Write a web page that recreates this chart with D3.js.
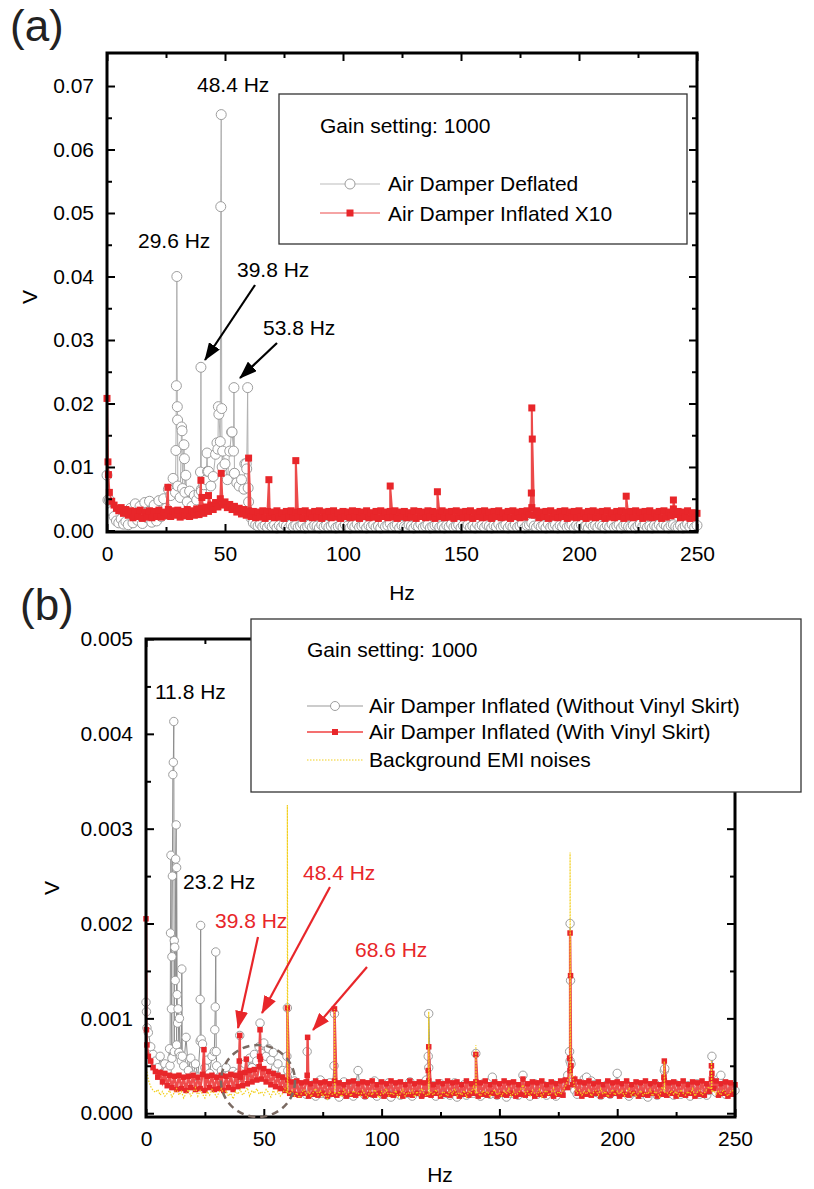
<!DOCTYPE html>
<html>
<head>
<meta charset="utf-8"/>
<script src="https://cdn.jsdelivr.net/npm/d3@7"></script>
<style>
  body { margin: 0; background: #fff; }
  text { font-family: "Liberation Sans", Arial, sans-serif; }
</style>
</head>
<body>
<div id="chart"></div>
<script>

// ---- panel (a): one value per Hz (0..250), units of 1e-4 V ----
var deflatedA = [
  87, 48, 30, 22, 15, 12, 18, 10, 14, 9,
  35, 12, 42, 16, 38, 11, 44, 20, 46, 13,
  40, 15, 47, 22, 50, 35, 65, 55, 82, 60,
  70, 52, 66, 60, 45, 62, 38, 55, 48, 58,
  65, 72, 80, 93, 70, 85, 120, 128, 140, 125,
  105, 80, 125, 155, 90, 75, 70, 80, 65, 105,
  45, 20, 12, 9, 7, 10, 6, 8, 5, 9,
  6, 9, 4, 8, 5, 10, 7, 4, 9, 6,
  8, 5, 7, 10, 4, 6, 9, 5, 8, 7,
  4, 9, 6, 8, 5, 7, 10, 4, 6, 8,
  5, 9, 7, 4, 8, 6, 10, 5, 7, 9,
  4, 8, 6, 9, 5, 7, 4, 10, 6, 8,
  11, 5, 7, 9, 4, 8, 6, 5, 9, 7,
  4, 8, 6, 10, 5, 7, 9, 4, 6, 8,
  9, 5, 7, 4, 8, 6, 10, 5, 7, 9,
  4, 8, 6, 9, 5, 7, 4, 10, 6, 8,
  5, 9, 7, 4, 8, 6, 10, 5, 7, 9,
  4, 8, 6, 9, 5, 7, 10, 4, 8, 9,
  12, 7, 5, 9, 6, 8, 4, 10, 5, 7,
  9, 4, 8, 6, 10, 5, 7, 9, 4, 8,
  6, 9, 5, 7, 4, 10, 6, 8, 5, 9,
  7, 4, 8, 6, 10, 5, 7, 9, 4, 8,
  9, 6, 5, 8, 4, 7, 10, 6, 9, 5,
  7, 4, 8, 6, 9, 5, 10, 7, 4, 8,
  9, 6, 5, 8, 4, 7, 10, 6, 9, 5,
  8
];
var deflatedA_peaks = [
  [0.4, 48],
  [29.2, 126], [29.4, 228], [29.6, 400], [29.8, 195], [29.9, 174],
  [31.6, 163], [31.8, 157], [32.6, 135], [32.8, 113], [33.4, 87],
  [39.6, 92], [39.8, 257], [40.0, 62],
  [42.4, 122], [42.6, 93],
  [46.6, 138], [47.2, 195], [47.4, 183], [48.2, 510], [48.4, 655], [48.6, 192], [48.8, 100],
  [52.8, 155], [53.6, 125], [53.8, 225], [54.0, 90],
  [58.4, 105], [59.2, 97], [59.6, 225], [59.8, 67]
];
var inflatedA = [
  208, 60, 46, 40, 35, 31, 36, 27, 33, 24,
  31, 20, 30, 22, 32, 19, 29, 21, 31, 20,
  30, 22, 32, 21, 29, 23, 33, 22, 31, 24,
  32, 21, 30, 23, 33, 22, 31, 24, 34, 25,
  35, 27, 37, 30, 40, 33, 44, 37, 50, 40,
  45, 36, 41, 33, 38, 29, 35, 26, 33, 24,
  31, 22, 30, 20, 29, 21, 31, 19, 30, 22,
  29, 20, 31, 21, 28, 19, 30, 22, 31, 20,
  29, 21, 30, 19, 31, 22, 28, 20, 30, 21,
  31, 19, 29, 22, 30, 20, 31, 21, 28, 19,
  30, 22, 29, 20, 31, 21, 30, 19, 29, 22,
  31, 20, 28, 21, 30, 19, 31, 22, 29, 20,
  30, 21, 31, 19, 29, 22, 30, 20, 28, 21,
  31, 19, 30, 22, 29, 20, 31, 21, 30, 19,
  28, 22, 31, 20, 29, 21, 30, 19, 31, 22,
  29, 20, 30, 21, 31, 19, 28, 22, 30, 20,
  31, 21, 29, 19, 30, 22, 31, 20, 28, 21,
  30, 19, 31, 22, 29, 20, 30, 21, 31, 25,
  36, 24, 31, 20, 29, 22, 30, 19, 31, 21,
  28, 20, 30, 22, 31, 19, 29, 21, 30, 20,
  31, 22, 28, 19, 30, 21, 31, 20, 29, 22,
  30, 19, 31, 21, 28, 20, 30, 22, 31, 19,
  29, 21, 30, 20, 31, 22, 29, 19, 30, 21,
  31, 20, 28, 22, 30, 19, 31, 21, 29, 23,
  34, 25, 30, 20, 29, 21, 31, 19, 28, 20,
  27
];
var inflatedA_peaks = [
  [0.4, 108], [0.6, 88], [25.8, 68],
  [39.8, 79], [40.2, 52], [43.0, 55], [48.4, 90],
  [60.0, 114], [68.6, 80], [80.0, 110], [120.0, 70], [140.0, 61],
  [179.8, 59], [180.0, 193], [180.2, 144], [220.0, 54], [240.0, 48]
];

// ---- panel (b): one value per Hz (0..250), units of 1e-5 V ----
var noSkirtB = [
  117, 85, 70, 62, 55, 48, 60, 42, 52, 45,
  68, 58, 65, 72, 64, 55, 50, 80, 45, 58,
  40, 52, 38, 76, 73, 48, 56, 42, 60, 65,
  50, 38, 45, 35, 48, 40, 33, 44, 36, 42,
  38, 45, 52, 40, 58, 48, 62, 55, 70, 63,
  74, 60, 68, 56, 64, 48, 52, 40, 45, 36,
  38, 30, 26, 34, 22, 30, 25, 28, 20, 26,
  24, 30, 18, 27, 35, 21, 28, 19, 32, 25,
  22, 29, 17, 26, 33, 20, 27, 24, 18, 31,
  45, 23, 28, 19, 30, 25, 21, 34, 18, 26,
  29, 20, 24, 32, 17, 27, 23, 30, 19, 25,
  28, 21, 33, 18, 26, 24, 30, 20, 27, 35,
  48, 22, 29, 18, 25, 31, 20, 27, 23, 19,
  26, 32, 17, 28, 22, 30, 19, 25, 27, 21,
  29, 24, 18, 31, 22, 27, 20, 38, 25, 19,
  28, 23, 30, 17, 26, 21, 29, 24, 19, 27,
  40, 22, 28, 18, 25, 31, 20, 26, 23, 29,
  19, 27, 24, 30, 18, 25, 22, 28, 33, 40,
  55, 30, 24, 20, 27, 23, 36, 38, 26, 34,
  30, 22, 28, 19, 26, 24, 31, 20, 25, 29,
  42, 21, 27, 23, 30, 18, 26, 22, 28, 24,
  20, 29, 25, 17, 27, 23, 31, 19, 26, 22,
  45, 28, 21, 25, 19, 30, 24, 20, 27, 23,
  29, 18, 26, 22, 31, 20, 25, 28, 19, 24,
  30, 27, 22, 36, 40, 25, 20, 28, 23, 26,
  24
];
var noSkirtB_peaks = [
  [0.2, 107], [0.4, 90],
  [10.2, 50], [10.4, 190], [10.6, 272], [10.8, 110], [11.0, 165], [11.2, 250], [11.4, 357],
  [11.6, 370], [11.8, 413], [12.0, 182], [12.2, 175], [12.4, 140], [12.6, 268], [12.8, 304],
  [13.0, 259], [13.2, 125], [13.4, 95], [13.6, 110], [14.0, 64], [14.2, 100], [14.6, 60],
  [15.2, 152], [15.4, 60],
  [23.0, 120], [23.2, 198], [23.4, 78],
  [29.2, 88], [29.4, 112], [29.6, 170], [29.8, 65],
  [39.8, 82], [48.4, 95],
  [59.8, 60], [60.0, 111], [60.2, 45], [68.4, 65],
  [79.8, 50], [80.0, 105], [119.8, 60], [120.0, 105], [140.0, 63],
  [179.8, 65], [180.0, 200], [180.2, 140], [180.4, 52],
  [220.2, 47], [240.2, 60]
];
var skirtB = [
  205, 60, 55, 48, 44, 38, 43, 33, 42, 29,
  40, 27, 39, 25, 40, 26, 38, 24, 39, 27,
  40, 25, 38, 26, 41, 24, 39, 27, 40, 25,
  38, 26, 40, 24, 39, 27, 41, 25, 40, 28,
  42, 29, 43, 31, 45, 33, 46, 35, 49, 36,
  47, 33, 44, 30, 42, 28, 40, 26, 38, 24,
  35, 21, 33, 20, 34, 19, 32, 21, 33, 18,
  31, 20, 34, 19, 32, 21, 33, 18, 31, 20,
  34, 19, 32, 21, 30, 18, 33, 20, 34, 19,
  31, 21, 33, 18, 32, 20, 34, 19, 30, 21,
  33, 18, 31, 20, 34, 19, 32, 21, 33, 18,
  30, 20, 34, 19, 31, 21, 33, 18, 32, 20,
  34, 19, 30, 21, 33, 18, 31, 20, 34, 19,
  32, 21, 33, 18, 30, 20, 34, 19, 31, 21,
  33, 18, 32, 20, 34, 19, 30, 21, 33, 18,
  31, 20, 34, 19, 32, 21, 33, 18, 30, 20,
  36, 19, 31, 21, 33, 18, 32, 20, 34, 19,
  30, 21, 33, 18, 31, 20, 34, 19, 35, 27,
  45, 30, 36, 21, 33, 18, 32, 20, 34, 19,
  31, 21, 33, 18, 30, 20, 34, 19, 32, 21,
  33, 18, 31, 20, 34, 19, 30, 21, 33, 18,
  32, 20, 34, 19, 31, 21, 33, 18, 30, 20,
  34, 19, 32, 21, 33, 18, 31, 20, 34, 19,
  30, 21, 33, 18, 32, 20, 34, 19, 31, 23,
  36, 26, 34, 19, 31, 21, 33, 18, 32, 20,
  30
];
var skirtB_peaks = [
  [0.2, 88], [0.4, 72],
  [24.6, 67], [39.6, 55], [39.8, 82], [40.0, 38], [42.6, 57],
  [48.2, 60], [48.4, 88], [48.6, 57],
  [60.0, 111], [68.4, 40], [68.6, 80], [80.0, 110],
  [119.8, 45], [120.0, 70], [140.0, 62],
  [179.8, 58], [180.0, 190], [180.2, 145], [180.4, 50],
  [219.8, 38], [220.0, 55], [240.0, 50], [240.2, 42]
];
var emiB = [
  50, 35, 28, 24, 22, 25, 19, 23, 18, 21,
  24, 17, 22, 26, 19, 23, 16, 21, 25, 18,
  22, 27, 18, 24, 20, 16, 23, 19, 25, 21,
  17, 22, 26, 19, 24, 18, 21, 15, 23, 20,
  25, 19, 22, 27, 18, 24, 21, 26, 20, 23,
  19, 25, 22, 17, 24, 20, 23, 18, 21, 26,
  22, 20, 24, 18, 22, 16, 21, 25, 19, 23,
  17, 22, 26, 19, 24, 18, 21, 15, 23, 20,
  21, 19, 23, 17, 25, 20, 22, 18, 24, 21,
  22, 18, 24, 20, 17, 23, 19, 25, 21, 16,
  23, 20, 26, 18, 22, 19, 24, 17, 21, 25,
  18, 22, 20, 24, 17, 23, 19, 26, 21, 18,
  22, 22, 19, 25, 20, 17, 23, 21, 18, 24,
  20, 26, 18, 22, 19, 24, 17, 23, 21, 28,
  24, 21, 18, 24, 20, 23, 17, 22, 25, 19,
  22, 18, 24, 20, 26, 17, 23, 19, 21, 25,
  30, 20, 23, 18, 24, 21, 19, 25, 17, 22,
  24, 19, 22, 26, 18, 23, 20, 24, 28, 35,
  40, 40, 26, 21, 24, 19, 23, 20, 25, 18,
  22, 24, 19, 26, 20, 23, 17, 21, 25, 19,
  23, 20, 24, 18, 22, 26, 19, 23, 17, 21,
  24, 19, 22, 20, 25, 18, 23, 21, 17, 28,
  25, 22, 19, 24, 20, 23, 18, 25, 21, 19,
  23, 20, 26, 18, 22, 24, 19, 21, 25, 28,
  26, 24, 20, 23, 19, 25, 21, 18, 22, 24,
  20
];
var emiB_peaks = [
  [59.8, 21], [60.0, 325], [60.2, 23], [79.8, 20], [80.0, 110], [80.2, 22],
  [119.8, 21], [120.0, 107], [120.2, 20], [139.8, 22], [140.0, 72], [140.2, 23],
  [179.8, 38], [180.0, 275], [180.2, 45], [219.8, 24], [220.0, 55], [220.2, 22],
  [239.8, 25], [240.0, 55], [240.2, 22]
];

var xTicks = [0, 50, 100, 150, 200, 250];
var xMinor = [25, 75, 125, 175, 225];
var yTicksA = [0, 0.01, 0.02, 0.03, 0.04, 0.05, 0.06, 0.07];
var yMinorA = [0.005, 0.015, 0.025, 0.035, 0.045, 0.055, 0.065];
var yTicksB = [0, 0.001, 0.002, 0.003, 0.004, 0.005];
var yMinorB = [0.0005, 0.0015, 0.0025, 0.0035, 0.0045];

var RED = "#e8262a", GREY = "#9d9d9d", YELLOW = "#f2cf1d";
var FONT = "Liberation Sans, Arial, sans-serif";

var svg = d3.select("#chart").append("svg")
    .attr("width", 814).attr("height", 1189);

var defs = svg.append("defs");
[["headK", "#000"], ["headR", RED]].forEach(function(m) {
    defs.append("marker").attr("id", m[0])
        .attr("markerUnits", "userSpaceOnUse")
        .attr("markerWidth", 18).attr("markerHeight", 13)
        .attr("refX", 17).attr("refY", 6.5).attr("orient", "auto")
      .append("path").attr("d", "M0,0 L18,6.5 L0,13 Z").attr("fill", m[1]);
});

// grid values + extra peak points, in frequency order
function series(grid, peaks, unit) {
    var pts = grid.map(function(v, i) { return [i, v * unit]; });
    peaks.forEach(function(p) { pts.push([p[0], p[1] * unit]); });
    pts.sort(function(a, b) { return a[0] - b[0]; });
    return pts;
}

function drawLine(g, x, y, pts, color, w, dash) {
    var line = d3.line().x(function(d) { return x(d[0]); }).y(function(d) { return y(d[1]); });
    g.append("path").datum(pts).attr("d", line)
        .attr("fill", "none").attr("stroke", color).attr("stroke-width", w)
        .attr("stroke-dasharray", dash || null);
}
function drawCircles(g, x, y, pts, r) {
    g.append("g").selectAll("circle").data(pts).enter().append("circle")
        .attr("cx", function(d) { return x(d[0]); })
        .attr("cy", function(d) { return y(d[1]); })
        .attr("r", r).attr("fill", "#fff").attr("stroke", GREY).attr("stroke-width", 1);
}
function drawSquares(g, x, y, pts, s) {
    g.append("g").selectAll("rect").data(pts).enter().append("rect")
        .attr("x", function(d) { return x(d[0]) - s / 2; })
        .attr("y", function(d) { return y(d[1]) - s / 2; })
        .attr("width", s).attr("height", s).attr("fill", RED);
}

function drawAxes(g, x, y, yMajor, yMinor, fmt) {
    var xr = x.range(), yr = y.range();
    function style(sel) {
        sel.attr("font-size", 21).attr("font-family", FONT);
        sel.select(".domain").remove();
        sel.selectAll(".tick line").attr("stroke", "#000").attr("stroke-width", 2);
    }
    g.append("g").attr("transform", "translate(0," + yr[0] + ")")
        .call(d3.axisBottom(x).tickValues(xTicks).tickSize(-8).tickPadding(14)).call(style);
    g.append("g").attr("transform", "translate(0," + yr[0] + ")")
        .call(d3.axisBottom(x).tickValues(xMinor).tickSize(-5).tickFormat("")).call(style);
    g.append("g").attr("transform", "translate(0," + yr[1] + ")")
        .call(d3.axisTop(x).tickValues(xTicks).tickSize(-8).tickFormat("")).call(style);
    g.append("g").attr("transform", "translate(0," + yr[1] + ")")
        .call(d3.axisTop(x).tickValues(xMinor).tickSize(-5).tickFormat("")).call(style);
    g.append("g").attr("transform", "translate(" + xr[0] + ",0)")
        .call(d3.axisLeft(y).tickValues(yMajor).tickSize(-8).tickPadding(13).tickFormat(fmt)).call(style);
    g.append("g").attr("transform", "translate(" + xr[0] + ",0)")
        .call(d3.axisLeft(y).tickValues(yMinor).tickSize(-5).tickFormat("")).call(style);
    g.append("g").attr("transform", "translate(" + xr[1] + ",0)")
        .call(d3.axisRight(y).tickValues(yMajor).tickSize(-8).tickFormat("")).call(style);
    g.append("g").attr("transform", "translate(" + xr[1] + ",0)")
        .call(d3.axisRight(y).tickValues(yMinor).tickSize(-5).tickFormat("")).call(style);
    g.append("rect").attr("x", xr[0]).attr("y", yr[1])
        .attr("width", xr[1] - xr[0]).attr("height", yr[0] - yr[1])
        .attr("fill", "none").attr("stroke", "#000").attr("stroke-width", 3);
}

function label(g, x, y, txt, color, size) {
    return g.append("text").attr("x", x).attr("y", y).text(txt)
        .attr("font-size", size || 21).attr("fill", color || "#000");
}
function arrow(g, x1, y1, x2, y2, color, head) {
    g.append("line").attr("x1", x1).attr("y1", y1).attr("x2", x2).attr("y2", y2)
        .attr("stroke", color).attr("stroke-width", 2.2)
        .attr("marker-end", "url(#" + head + ")");
}

// ================= panel (a) =================
var ga = svg.append("g");
var xA = d3.scaleLinear().domain([0, 250]).range([107, 697]);
var yA = d3.scaleLinear().domain([-0.00024, 0.0752]).range([532, 53]);

var defA = series(deflatedA, deflatedA_peaks, 1e-4);
var infA = series(inflatedA, inflatedA_peaks, 1e-4);
drawLine(ga, xA, yA, defA, "#b0b0b0", 1);
drawCircles(ga, xA, yA, defA, 5);
drawLine(ga, xA, yA, infA, "#ec4a4a", 2);
drawSquares(ga, xA, yA, infA, 7);
drawAxes(ga, xA, yA, yTicksA, yMinorA, d3.format(".2f"));

label(ga, 10, 41, "(a)", "#222", 44).attr("font-family", "Lato, DejaVu Sans, sans-serif").attr("font-weight", 300);
label(ga, 402, 600, "Hz").attr("text-anchor", "middle");
label(ga, 0, 0, "V").attr("text-anchor", "middle").attr("transform", "translate(37,297) rotate(-90)");

ga.append("rect").attr("x", 279).attr("y", 94).attr("width", 408).attr("height", 150)
    .attr("fill", "#fff").attr("stroke", "#333").attr("stroke-width", 1.3);
label(ga, 320, 133, "Gain setting: 1000");
ga.append("line").attr("x1", 320).attr("x2", 380).attr("y1", 184).attr("y2", 184).attr("stroke", "#bbb").attr("stroke-width", 1.2);
ga.append("circle").attr("cx", 350).attr("cy", 184).attr("r", 5).attr("fill", "#fff").attr("stroke", GREY);
label(ga, 388, 191, "Air Damper Deflated");
ga.append("line").attr("x1", 320).attr("x2", 380).attr("y1", 213).attr("y2", 213).attr("stroke", "#ec4a4a").attr("stroke-width", 1.2);
ga.append("rect").attr("x", 346.5).attr("y", 209.5).attr("width", 7).attr("height", 7).attr("fill", RED);
label(ga, 388, 221, "Air Damper Inflated X10");

label(ga, 197, 92, "48.4 Hz");
label(ga, 138, 248, "29.6 Hz");
label(ga, 237, 277, "39.8 Hz");
label(ga, 263, 335, "53.8 Hz");
arrow(ga, 255, 285, 205, 360, "#000", "headK");
arrow(ga, 277, 343, 240, 378, "#000", "headK");

// ================= panel (b) =================
var gb = svg.append("g");
var xB = d3.scaleLinear().domain([0, 250]).range([146, 735]);
var yB = d3.scaleLinear().domain([-0.00004, 0.005]).range([1117, 639]);

var noSk = series(noSkirtB, noSkirtB_peaks, 1e-5);
var withSk = series(skirtB, skirtB_peaks, 1e-5);
var emi = series(emiB, emiB_peaks, 1e-5);
drawLine(gb, xB, yB, noSk, "#8e8e8e", 1);
drawCircles(gb, xB, yB, noSk, 4.2);
drawLine(gb, xB, yB, withSk, "#ee4d4d", 2.4);
drawSquares(gb, xB, yB, withSk, 5.5);
drawLine(gb, xB, yB, emi, YELLOW, 1.2, "1.5,1.5");
drawAxes(gb, xB, yB, yTicksB, yMinorB, d3.format(".3f"));

label(gb, 20, 620, "(b)", "#222", 44).attr("font-family", "Lato, DejaVu Sans, sans-serif").attr("font-weight", 300);
label(gb, 440, 1182, "Hz").attr("text-anchor", "middle");
label(gb, 0, 0, "V").attr("text-anchor", "middle").attr("transform", "translate(59,888) rotate(-90)");

gb.append("ellipse").attr("cx", 258).attr("cy", 1081).attr("rx", 37).attr("ry", 36)
    .attr("fill", "none").attr("stroke", "#7a6a62").attr("stroke-width", 2.5).attr("stroke-dasharray", "7,5");

label(gb, 155, 699, "11.8 Hz");
label(gb, 183, 889, "23.2 Hz");
label(gb, 215, 928, "39.8 Hz", RED);
label(gb, 303, 880, "48.4 Hz", RED);
label(gb, 355, 957, "68.6 Hz", RED);
arrow(gb, 258, 937, 238, 1028, RED, "headR");
arrow(gb, 330, 887, 262, 1013, RED, "headR");
arrow(gb, 367, 967, 313, 1030, RED, "headR");

// legend box sits over the top-right corner of the frame
gb.append("rect").attr("x", 251).attr("y", 619).attr("width", 550).attr("height", 173)
    .attr("fill", "#fff").attr("stroke", "#333").attr("stroke-width", 1.3);
label(gb, 307, 657, "Gain setting: 1000");
gb.append("line").attr("x1", 307).attr("x2", 363).attr("y1", 706).attr("y2", 706).attr("stroke", "#999").attr("stroke-width", 1.2);
gb.append("circle").attr("cx", 335).attr("cy", 706).attr("r", 4.5).attr("fill", "#fff").attr("stroke", GREY);
label(gb, 369, 713, "Air Damper Inflated (Without Vinyl Skirt)");
gb.append("line").attr("x1", 307).attr("x2", 363).attr("y1", 732).attr("y2", 732).attr("stroke", "#f47070").attr("stroke-width", 2);
gb.append("rect").attr("x", 332).attr("y", 729).attr("width", 6).attr("height", 6).attr("fill", RED);
label(gb, 369, 739, "Air Damper Inflated (With Vinyl Skirt)");
gb.append("line").attr("x1", 307).attr("x2", 363).attr("y1", 760).attr("y2", 760).attr("stroke", YELLOW).attr("stroke-width", 1.2).attr("stroke-dasharray", "1.5,1.5");
label(gb, 369, 767, "Background EMI noises");

</script>
</body>
</html>
